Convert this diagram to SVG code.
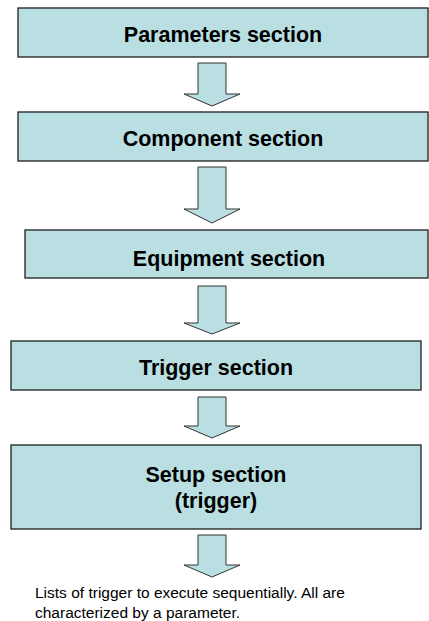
<svg xmlns="http://www.w3.org/2000/svg" width="429" height="621" viewBox="0 0 429 621">
<style>
.box{fill:#B9DFE2;stroke:#1e1e1e;stroke-width:1.3}
.arr{fill:#B9DFE2;stroke:#333;stroke-width:1}
.t{font-family:"Liberation Sans",Arial,sans-serif;font-weight:bold;font-size:21.5px;fill:#000;text-anchor:middle}
.n{font-family:"Liberation Sans",Arial,sans-serif;font-size:15.5px;fill:#000}
</style>
<rect width="429" height="621" fill="#fff"/>
<g id="parameters">
<rect class="box" x="18" y="8" width="410" height="49"/>
<text class="t" x="223" y="42">Parameters section</text>
</g>
<g id="component">
<rect class="box" x="18" y="112" width="410" height="49"/>
<text class="t" x="223" y="146">Component section</text>
</g>
<g id="equipment">
<rect class="box" x="25" y="230" width="403" height="48"/>
<text class="t" x="229" y="266">Equipment section</text>
</g>
<g id="trigger">
<rect class="box" x="11" y="341" width="410" height="49"/>
<text class="t" x="216" y="375">Trigger section</text>
</g>
<g id="setup">
<rect class="box" x="11" y="445" width="410" height="84"/>
<text class="t" x="216" y="482">Setup section</text>
<text class="t" x="216" y="508">(trigger)</text>
</g>
<g id="note">
<text class="n" x="35" y="598">Lists of trigger to execute sequentially. All are</text>
<text class="n" x="35" y="618">characterized by a parameter.</text>
</g>
<g id="connectors">
<path class="arr" d="M198,63 H226 V94 H240 L212,106 L184,94 H198 Z"/>
<path class="arr" d="M198,167 H226 V209 H240 L212,223 L184,209 H198 Z"/>
<path class="arr" d="M198,286 H226 V323 H240 L212,334 L184,323 H198 Z"/>
<path class="arr" d="M198,397 H226 V426 H240 L212,438 L184,426 H198 Z"/>
<path class="arr" d="M198,535 H226 V565 H240 L212,577 L184,565 H198 Z"/>
</g>
</svg>
